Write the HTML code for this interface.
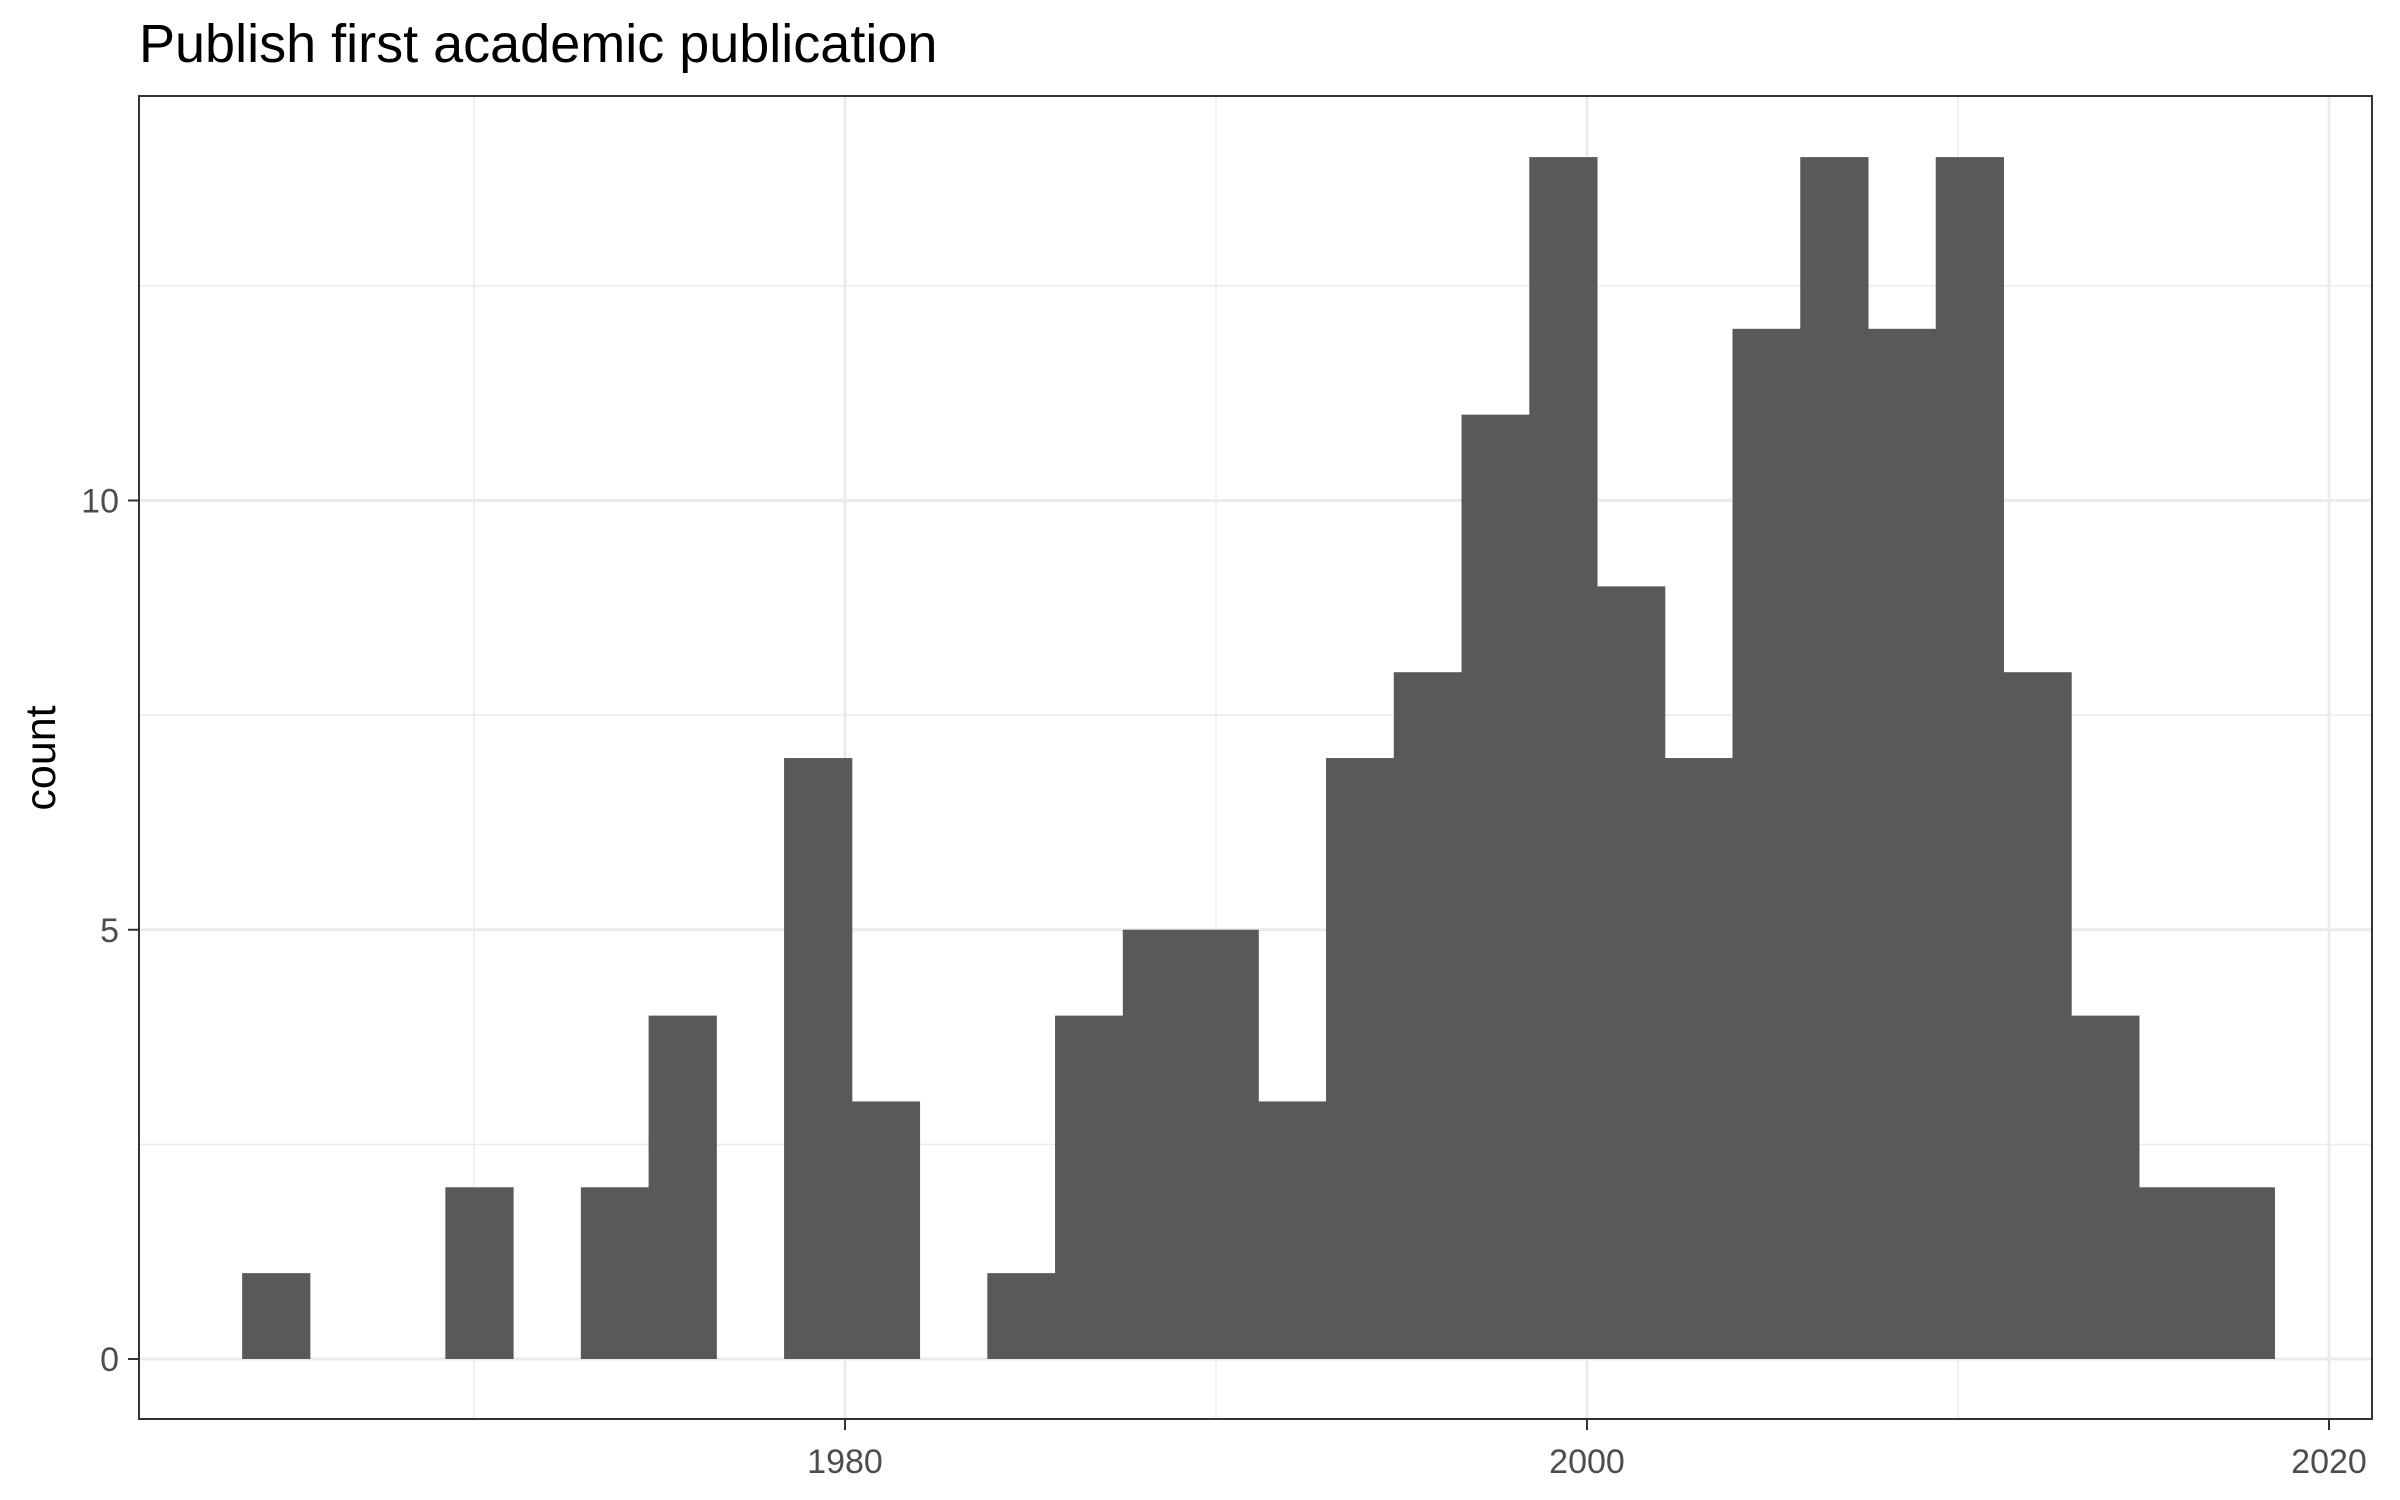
<!DOCTYPE html>
<html><head><meta charset="utf-8"><style>
html,body{margin:0;padding:0;background:#fff;}
svg{display:block;font-family:"Liberation Sans",Arial,sans-serif;}
</style></head><body>
<svg id="chart" width="2400" height="1500" viewBox="0 0 2400 1500">
<rect width="2400" height="1500" fill="#fff"/>
<text x="139" y="62" font-size="54" fill="#000">Publish first academic publication</text>
<g id="grid"></g>
<g id="bars"></g>
<rect x="139" y="96" width="2233" height="1323" fill="none" stroke="#333" stroke-width="2"/>
<g id="axes"></g>
<text transform="translate(55,758) rotate(-90)" text-anchor="middle" font-size="43" fill="#000">count</text>
</svg>
<script>
const binStart = 1963.75;
const binWidth = 1.826;
const counts = [1,0,0,2,0,2,4,0,7,3,0,1,4,5,5,3,7,8,11,14,9,7,12,14,12,14,8,4,2,2];
const xTicks = [1980, 2000, 2020];
const xMinor = [1970, 1990, 2010];
const yTicks = [0, 5, 10];
const yMinor = [2.5, 7.5, 12.5];

const L=139,R=2372,T=96,B=1419;
function xs(v){return 845+(v-1980)*(1587-845)/20;}
function ys(v){return 1359-v*(1359-500.5)/10;}
const NS='http://www.w3.org/2000/svg';
function mk(tag,attrs,parent){const e=document.createElementNS(NS,tag);for(const k in attrs)e.setAttribute(k,attrs[k]);parent.appendChild(e);return e;}
const grid=document.getElementById('grid'),bars=document.getElementById('bars'),axes=document.getElementById('axes');
xMinor.forEach(v=>{const l=mk('line',{x1:xs(v),x2:xs(v),y1:T,y2:B,stroke:'#ebebeb','stroke-width':1.5},grid);

});
yMinor.forEach(v=>{const l=mk('line',{x1:L,x2:R,y1:ys(v),y2:ys(v),stroke:'#ebebeb','stroke-width':1.5},grid);

});
xTicks.forEach(v=>{const l=mk('line',{x1:xs(v),x2:xs(v),y1:T,y2:B,stroke:'#ebebeb','stroke-width':3},grid);


const t=mk('line',{x1:xs(v),x2:xs(v),y1:B,y2:B+11,stroke:'#333','stroke-width':2},axes);


const tx=mk('text',{x:xs(v),y:B+54,'text-anchor':'middle','font-size':34,fill:'#4d4d4d'},axes);tx.textContent=v;

});
yTicks.forEach(v=>{const l=mk('line',{x1:L,x2:R,y1:ys(v),y2:ys(v),stroke:'#ebebeb','stroke-width':3},grid);


const t=mk('line',{x1:L-11,x2:L,y1:ys(v),y2:ys(v),stroke:'#333','stroke-width':2},axes);


const tx=mk('text',{x:L-20,y:ys(v)+12,'text-anchor':'end','font-size':34,fill:'#4d4d4d'},axes);tx.textContent=v;

});
counts.forEach((c,i)=>{if(c<=0)return;const x0=xs(binStart+i*binWidth),x1=xs(binStart+(i+1)*binWidth);
const r=mk('rect',{x:x0,y:ys(c),width:x1-x0+0.5,height:ys(0)-ys(c),fill:'#595959'},bars);

});
</script>
</body></html>
